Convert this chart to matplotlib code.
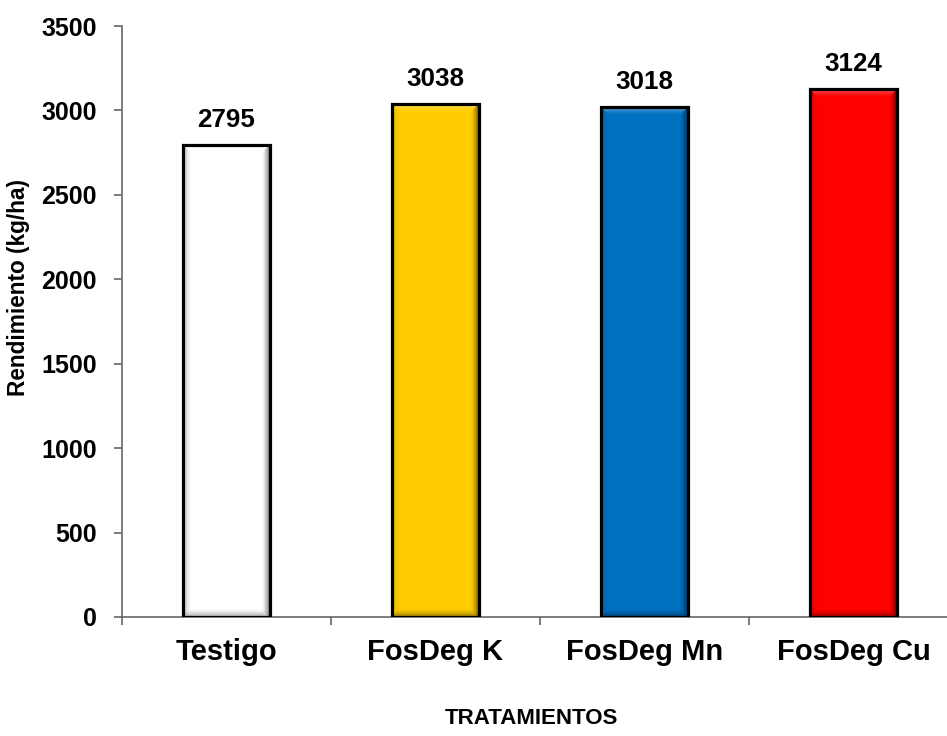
import numpy as np
import matplotlib
matplotlib.use("Agg")
import matplotlib.pyplot as plt
from matplotlib.colors import to_rgb

categories = ["Testigo", "FosDeg K", "FosDeg Mn", "FosDeg Cu"]
values = [2795, 3038, 3018, 3124]
colors = ["#FFFFFF", "#FFCC00", "#0070C0", "#FF0000"]
y_ticks = [0, 500, 1000, 1500, 2000, 2500, 3000, 3500]
y_label = "Rendimiento (kg/ha)"
x_label = "TRATAMIENTOS"

plt.rcParams["font.family"] = ["Liberation Sans", "DejaVu Sans"]
plt.rcParams["font.weight"] = "bold"

W, H = 947, 736
fig = plt.figure(figsize=(W / 100, H / 100), dpi=100)
ax = fig.add_axes([122 / W, 119 / H, 836 / W, 591 / H])
ax.set_xlim(-0.5, len(categories) - 0.5)
ax.set_ylim(0, 3500)

bars = ax.bar(range(len(categories)), values, width=0.415, color="none",
              edgecolor="black", linewidth=2.3, zorder=3)


def bevel_image(color, nx, ny, b=8):
    base = np.array(to_rgb(color))
    img = np.ones((ny, nx, 3)) * base
    yy, xx = np.mgrid[0:ny, 0:nx]
    dl = xx + 0.5
    dr = nx - xx - 0.5
    dt = yy + 0.5
    db = ny - yy - 0.5
    dmin = np.minimum(np.minimum(dl, dr), np.minimum(dt, db))
    white = np.ones(3)
    black = np.zeros(3)
    lum = base.mean()
    for d, mode, amt in [(dt, "light", 0.35), (dl, "dark", 0.3 if lum > 0.9 else 0.12),
                         (dr, "dark", 0.55), (db, "dark", 0.35 if lum > 0.9 else 0.4)]:
        mask = (d == dmin) & (d < b)
        t = ((1 - d / b)[mask] ** 1.3)[:, None]
        if mode == "light":
            img[mask] = img[mask] * (1 - amt * t) + white * amt * t
        else:
            img[mask] = img[mask] * (1 - amt * t) + black * amt * t
    return img


fig.canvas.draw()
for bar, c in zip(bars, colors):
    x0, y0, w, h = bar.get_x(), bar.get_y(), bar.get_width(), bar.get_height()
    p0 = ax.transData.transform((x0, y0))
    p1 = ax.transData.transform((x0 + w, y0 + h))
    nx = max(int(round(p1[0] - p0[0])), 2)
    ny = max(int(round(p1[1] - p0[1])), 2)
    ax.imshow(bevel_image(c, nx, ny), extent=(x0, x0 + w, y0, y0 + h),
              aspect="auto", zorder=2, interpolation="bilinear")

for i, v in enumerate(values):
    ax.annotate(str(v), (i, v), xytext=(0, 13), textcoords="offset points",
                ha="center", va="baseline", fontsize=18.7, fontweight="bold")

ax.set_xlim(-0.5, len(categories) - 0.5)
ax.set_ylim(0, 3500)
ax.set_yticks(y_ticks)
ax.set_yticklabels([str(t) for t in y_ticks], fontsize=18, fontweight="bold")
ax.set_xticks(np.arange(len(categories)))
ax.set_xticklabels(categories, fontsize=21, fontweight="bold")
ax.set_xticks(np.arange(len(categories) + 1) - 0.5, minor=True)
ax.tick_params(axis="x", which="major", length=0, pad=15)
ax.tick_params(axis="x", which="minor", length=6, width=1.2, color="#666666", direction="out")
ax.tick_params(axis="y", length=6, width=1.2, color="#666666", direction="out", pad=12)

for s in ["top", "right"]:
    ax.spines[s].set_visible(False)
for s in ["left", "bottom"]:
    ax.spines[s].set_color("#666666")
    ax.spines[s].set_linewidth(1.2)

ax.set_ylabel(y_label, fontsize=16.3, fontweight="bold")
ax.yaxis.set_label_coords(-0.124, 0.558)
ax.yaxis.label.set_va("center")
ax.set_xlabel(x_label, fontsize=16, fontweight="bold")
ax.xaxis.set_label_coords(0.49, -0.171)
ax.xaxis.label.set_va("center")

fig.savefig("out.png", dpi=100)
